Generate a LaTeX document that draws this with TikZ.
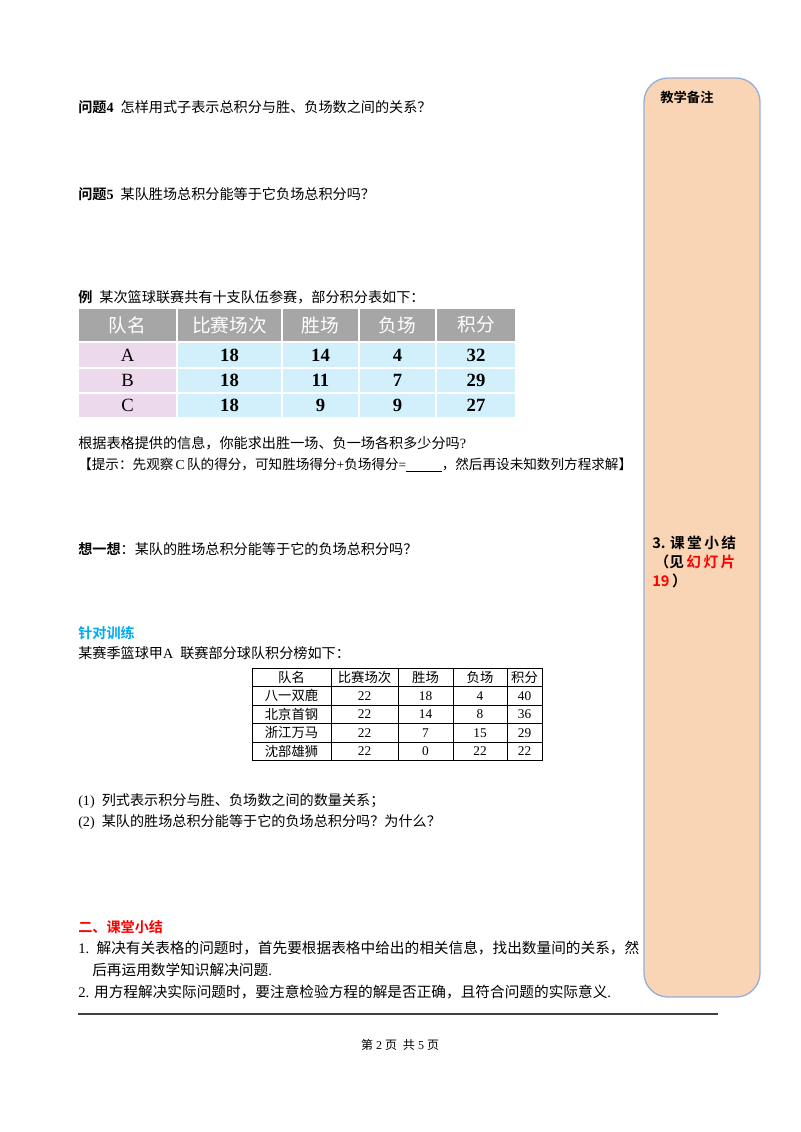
\documentclass[tikz,border=0pt]{standalone}
\usepackage{fontspec}
\setmainfont{Liberation Serif}
\newfontfamily\cjk{Noto Sans CJK SC}
\newfontfamily\cjkb{Noto Sans CJK SC Bold}
\begin{document}
\begin{tikzpicture}[x=0.75pt,y=-0.75pt,
  txt/.style={anchor=west,inner sep=0pt,font=\fontsize{10.6}{12}\selectfont},
  hd/.style={fill=black!35,draw=white,line width=1pt},
  nm/.style={fill=violet!15,draw=white,line width=1pt},
  bl/.style={fill=cyan!18,draw=white,line width=1pt},
  cell/.style={inner sep=0pt,font=\fontsize{10}{11}\selectfont},
  big/.style={inner sep=0pt,font=\fontsize{14}{16}\selectfont\bfseries},
  hdt/.style={inner sep=0pt,text=white,font=\fontsize{14}{16}\selectfont\cjk}]
\useasboundingbox (0,0) rectangle (800,1132);
% side panel
\draw[fill={rgb,255:red,250;green,213;blue,181},draw={rgb,255:red,150;green,175;blue,215},line width=1pt,rounded corners=18pt] (644,78) rectangle (760,997);
\node[txt,font=\fontsize{10}{12}\selectfont\cjkb] (bz) at (660,97) {教学备注};
\node[txt,font=\fontsize{11}{12}\selectfont\cjkb] (s1) at (652,543) {3. 课\,堂\,小\,结};
\node[txt,font=\fontsize{11}{12}\selectfont\cjkb] (s2) at (652,562) {\,（见\,\textcolor{red}{幻\,灯\,片}};
\node[txt,font=\fontsize{11}{12}\selectfont\cjkb] (s3) at (652,581) {\textcolor{red}{19}\,）};
% questions
\node[txt] (q4) at (78,107) {{\cjkb 问题}\textbf{4}\ \ {\cjk 怎样用式子表示总积分与胜、负场数之间的关系？}};
\node[txt] (q5) at (78,194) {{\cjkb 问题}\textbf{5}\ \ {\cjk 某队胜场总积分能等于它负场总积分吗？}};
\node[txt] (ex) at (78,297) {{\cjkb 例}\ \ {\cjk 某次篮球联赛共有十支队伍参赛，部分积分表如下：}};
% coloured table
\foreach \a/\b in {78/177,177/282,282/359,359/436,436/516}{
  \draw[hd] (\a,308) rectangle (\b,342);}
\foreach \y/\z in {342/368,368/393,393/418}{
  \draw[nm] (78,\y) rectangle (177,\z);
  \foreach \a/\b in {177/282,282/359,359/436,436/516}{\draw[bl] (\a,\y) rectangle (\b,\z);}}
\node[hdt] (h1) at (127.5,325) {队名};
\node[hdt] (h2) at (229.5,325) {比赛场次};
\node[hdt] (h3) at (320.5,325) {胜场};
\node[hdt] (h4) at (397.5,325) {负场};
\node[hdt] (h5) at (476,325) {积分};
\foreach \y/\n/\p/\w/\l/\s in {355/A/18/14/4/32,380.5/B/18/11/7/29,405.5/C/18/9/9/27}{
  \node[inner sep=0pt,font=\fontsize{14}{16}\selectfont] at (127.5,\y) {\n};
  \node[big] at (229.5,\y) {\p};
  \node[big] at (320.5,\y) {\w};
  \node[big] at (397.5,\y) {\l};
  \node[big] at (476,\y) {\s};}
\node[txt] (t1) at (78,443) {{\cjk 根据表格提供的信息，你能求出胜一场、负一场各积多少分吗}?};
\node[txt,font=\fontsize{10.2}{12}\selectfont] (t2) at (78,465) {{\cjk 【提示：先观察}\,C\,{\cjk 队的得分，可知胜场得分}+{\cjk 负场得分}=\underline{\hspace{2.6em}}{\cjk ，然后再设未知数列方程求解】}};
\node[txt] (xy) at (78,549) {{\cjkb 想一想}{\cjk ：某队的胜场总积分能等于它的负场总积分吗？}};
\node[txt,text={rgb,255:red,0;green,170;blue,240},font=\fontsize{10.6}{12}\selectfont\cjkb] (zd) at (78,633) {针对训练};
\node[txt] (ms) at (78,653) {{\cjk 某赛季篮球甲}A\ \ {\cjk 联赛部分球队积分榜如下：}};
% small table
\draw[line width=0.6pt] (252,668) rectangle (542,760);
\foreach \y in {686.5,705,723.5,742}{\draw[line width=0.5pt] (252,\y) -- (542,\y);}
\foreach \x in {331,398,453,507}{\draw[line width=0.5pt] (\x,668) -- (\x,760);}
\node[cell,font=\fontsize{10}{11}\selectfont\cjk] at (291.5,677.25) {队名};
\node[cell,font=\fontsize{10}{11}\selectfont\cjk] at (364.5,677.25) {比赛场次};
\node[cell,font=\fontsize{10}{11}\selectfont\cjk] at (425.5,677.25) {胜场};
\node[cell,font=\fontsize{10}{11}\selectfont\cjk] at (480,677.25) {负场};
\node[cell,font=\fontsize{10}{11}\selectfont\cjk] at (524.5,677.25) {积分};
\foreach \y/\a/\b/\c/\d/\e in {695.75/八一双鹿/22/18/4/40,714.25/北京首钢/22/14/8/36,732.75/浙江万马/22/7/15/29,751/沈部雄狮/22/0/22/22}{
  \node[cell,font=\fontsize{10}{11}\selectfont\cjk] at (291.5,\y) {\a};
  \node[cell] at (364.5,\y) {\b};
  \node[cell] at (425.5,\y) {\c};
  \node[cell] at (480,\y) {\d};
  \node[cell] at (524.5,\y) {\e};}
\node[txt] (p1) at (78,801) {(1)\ \ {\cjk 列式表示积分与胜、负场数之间的数量关系；}};
\node[txt] (p2) at (78,822) {(2)\ \ {\cjk 某队的胜场总积分能等于它的负场总积分吗？为什么？}};
\node[txt,text=red,font=\fontsize{10.6}{12}\selectfont\cjkb] (ek) at (78,927) {二、课堂小结};
\node[txt,font=\fontsize{11}{12}\selectfont] (k1) at (78,948) {1.\ \ {\cjk 解决有关表格的问题时，首先要根据表格中给出的相关信息，找出数量间的关系，然}};
\node[txt,font=\fontsize{11}{12}\selectfont] (k1b) at (92,970) {{\cjk 后再运用数学知识解决问题}.};
\node[txt,font=\fontsize{11}{12}\selectfont] (k2) at (78,992) {2. {\cjk 用方程解决实际问题时，要注意检验方程的解是否正确，且符合问题的实际意义}.};
\coordinate (la) at (78,1014); \coordinate (lb) at (718,1014);
\draw[line width=1pt,black!75] (la) -- (lb);
\node[inner sep=0pt,font=\fontsize{9}{10}\selectfont] (ft) at (400,1045) {{\cjk 第}\ 2\ {\cjk 页}\ \ {\cjk 共}\ 5\ {\cjk 页}};
\end{tikzpicture}
\end{document}
